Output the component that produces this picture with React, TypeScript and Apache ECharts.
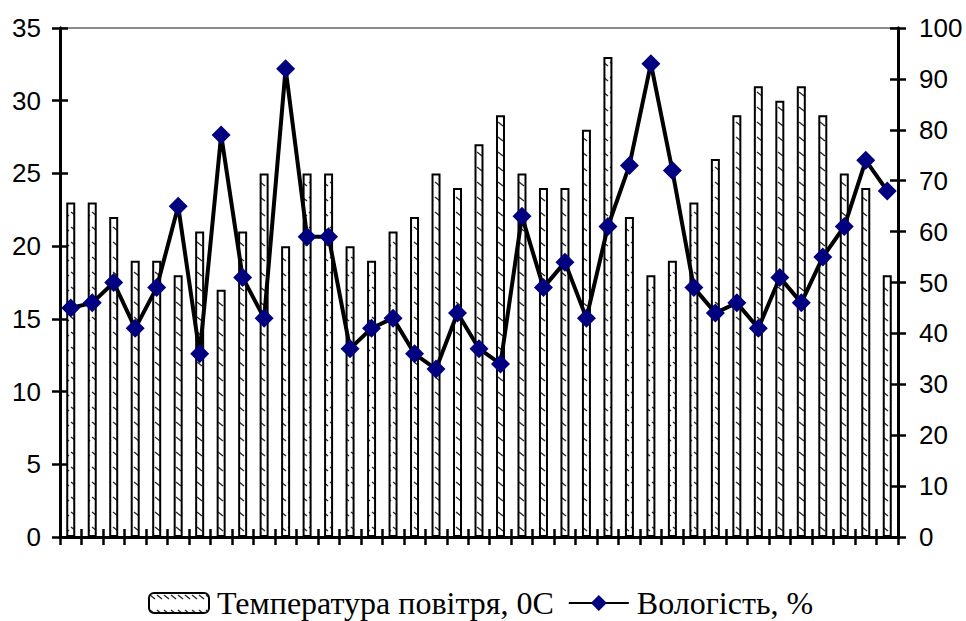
import { useEffect, useRef } from "react";
import * as echarts from "echarts";

// Day numbers along the x axis (labels hidden)
const days = [
  "1", "2", "3", "4", "5", "6", "7", "8", "9", "10",
  "11", "12", "13", "14", "15", "16", "17", "18", "19", "20",
  "21", "22", "23", "24", "25", "26", "27", "28", "29", "30",
  "31", "32", "33", "34", "35", "36", "37", "38", "39",
];

// Air temperature, °C (left axis)
const temperature = [
  23, 23, 22, 19, 19, 18, 21, 17, 21, 25,
  20, 25, 25, 20, 19, 21, 22, 25, 24, 27,
  29, 25, 24, 24, 28, 33, 22, 18, 19, 23,
  26, 29, 31, 30, 31, 29, 25, 24, 18,
];

// Relative humidity, % (right axis)
const humidity = [
  45, 46, 50, 41, 49, 65, 36, 79, 51, 43,
  92, 59, 59, 37, 41, 43, 36, 33, 44, 37,
  34, 63, 49, 54, 43, 61, 73, 93, 72, 49,
  44, 46, 41, 51, 46, 55, 61, 74, 68,
];

const leftTicks = { min: 0, max: 35, interval: 5 };
const rightTicks = { min: 0, max: 100, interval: 10 };

const tempName = "Температура повітря, 0С";
const humName = "Вологість, %";

function makeHatch(): HTMLCanvasElement {
  const c = document.createElement("canvas");
  c.width = 7;
  c.height = 15;
  const ctx = c.getContext("2d")!;
  ctx.fillStyle = "#ffffff";
  ctx.fillRect(0, 0, 7, 15);
  ctx.strokeStyle = "#2a2a2a";
  ctx.lineWidth = 1.4;
  ctx.beginPath();
  ctx.moveTo(1, 2);
  ctx.lineTo(6, 6);
  ctx.stroke();
  return c;
}

export default function App() {
  const ref = useRef<HTMLDivElement>(null);

  useEffect(() => {
    if (!ref.current) return;
    const chart = echarts.init(ref.current, undefined, { renderer: "svg" });
    const hatch = makeHatch();
    const axisFont = {
      fontFamily: "Liberation Sans, Arial, sans-serif",
      fontSize: 26,
      color: "#000",
    };
    const axisLine = { show: true, lineStyle: { color: "#000", width: 3 } };
    const tickStyle = { color: "#000", width: 2.5 };

    const yBase = (side: "left" | "right", t: typeof leftTicks) => ({
      type: "value" as const,
      position: side,
      min: t.min,
      max: t.max,
      interval: t.interval,
      splitLine: { show: false },
      axisLine,
    });

    chart.setOption({
      animation: false,
      backgroundColor: "#fff",
      grid: {
        left: 60,
        right: 68,
        top: 28,
        bottom: 84,
        show: true,
        borderColor: "#8c8c8c",
        borderWidth: 2,
      },
      legend: {
        left: 148,
        top: 587,
        padding: 0,
        itemWidth: 60,
        itemHeight: 20,
        itemGap: 14,
        textStyle: {
          fontFamily: "Liberation Serif, Times New Roman, serif",
          fontSize: 32,
          color: "#000",
          padding: [0, 0, 0, 3],
        },
        data: [tempName, humName],
      },
      xAxis: [
        {
          type: "category",
          data: days,
          position: "bottom",
          axisLine,
          axisTick: { show: true, length: 8, lineStyle: tickStyle },
          axisLabel: { show: false },
        },
        {
          type: "category",
          data: days,
          position: "bottom",
          axisLine,
          axisTick: { show: true, inside: true, length: 8, lineStyle: tickStyle },
          axisLabel: { show: false },
        },
      ],
      yAxis: [
        {
          ...yBase("left", leftTicks),
          axisTick: { show: true, length: 8, lineStyle: tickStyle },
          axisLabel: { ...axisFont, margin: 19 },
        },
        {
          ...yBase("right", rightTicks),
          axisTick: { show: true, length: 8, lineStyle: tickStyle },
          axisLabel: { ...axisFont, margin: 21 },
        },
        {
          ...yBase("left", leftTicks),
          axisTick: { show: true, inside: true, length: 8, lineStyle: tickStyle },
          axisLabel: { show: false },
        },
        {
          ...yBase("right", rightTicks),
          axisTick: { show: true, inside: true, length: 8, lineStyle: tickStyle },
          axisLabel: { show: false },
        },
      ],
      series: [
        {
          name: tempName,
          type: "bar",
          xAxisIndex: 0,
          yAxisIndex: 0,
          data: temperature,
          barWidth: 9,
          itemStyle: {
            color: { image: hatch, repeat: "repeat" },
            borderColor: "#000",
            borderWidth: 2,
          },
        },
        {
          name: humName,
          type: "line",
          xAxisIndex: 0,
          yAxisIndex: 1,
          data: humidity,
          symbol: "diamond",
          symbolSize: 19,
          showAllSymbol: true,
          lineStyle: { color: "#000", width: 4 },
          itemStyle: { color: "#000080" },
        },
      ],
    });

    return () => chart.dispose();
  }, []);

  return (
    <div
      ref={ref}
      style={{ position: "fixed", left: 0, top: 0, width: 966, height: 621 }}
    />
  );
}
